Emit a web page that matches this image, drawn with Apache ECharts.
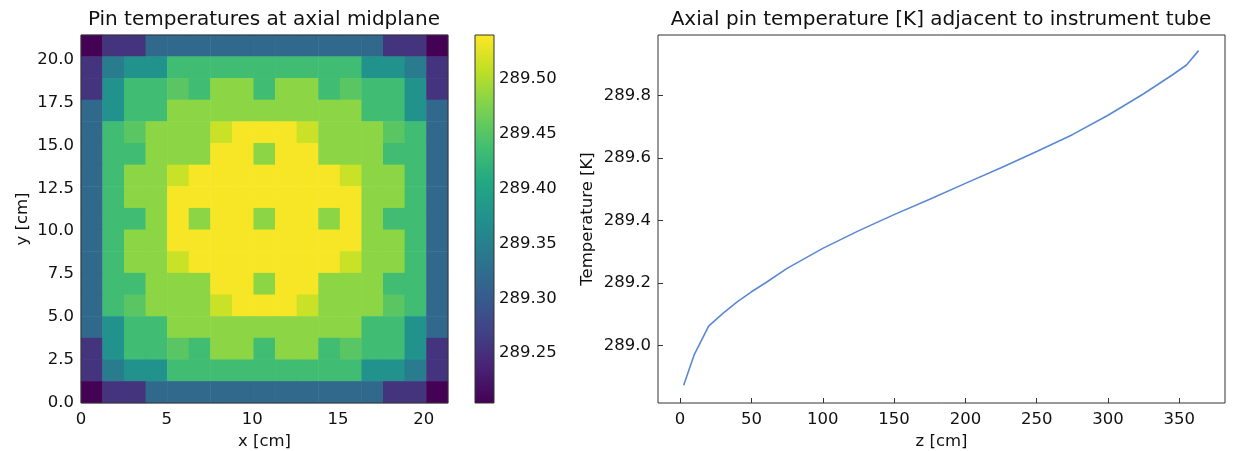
<!DOCTYPE html>
<html>
<head>
<meta charset="utf-8">
<script src="https://cdn.jsdelivr.net/npm/echarts@6/dist/echarts.min.js"></script>
<style>
html, body { margin: 0; padding: 0; background: #fff; }
#chart { width: 1238px; height: 451px; }
</style>
</head>
<body>
<div id="chart"></div>
<script>
// pin temperatures [K] at the axial midplane, 17x17 pins, first row is the top of the map
var pinRows = [
    [289.205, 289.255, 289.255, 289.318, 289.318, 289.318, 289.318, 289.318, 289.318, 289.318, 289.318, 289.318, 289.318, 289.318, 289.255, 289.255, 289.205],
    [289.255, 289.343, 289.374, 289.374, 289.435, 289.435, 289.435, 289.435, 289.435, 289.435, 289.435, 289.435, 289.435, 289.374, 289.374, 289.343, 289.255],
    [289.255, 289.374, 289.435, 289.435, 289.453, 289.435, 289.482, 289.482, 289.435, 289.482, 289.482, 289.435, 289.453, 289.435, 289.435, 289.374, 289.255],
    [289.318, 289.374, 289.435, 289.435, 289.482, 289.482, 289.482, 289.482, 289.482, 289.482, 289.482, 289.482, 289.482, 289.435, 289.435, 289.374, 289.318],
    [289.318, 289.435, 289.453, 289.482, 289.482, 289.482, 289.513, 289.537, 289.537, 289.537, 289.513, 289.482, 289.482, 289.482, 289.453, 289.435, 289.318],
    [289.318, 289.435, 289.435, 289.482, 289.482, 289.482, 289.537, 289.537, 289.482, 289.537, 289.537, 289.482, 289.482, 289.482, 289.435, 289.435, 289.318],
    [289.318, 289.435, 289.482, 289.482, 289.513, 289.537, 289.537, 289.537, 289.537, 289.537, 289.537, 289.537, 289.513, 289.482, 289.482, 289.435, 289.318],
    [289.318, 289.435, 289.482, 289.482, 289.537, 289.537, 289.537, 289.537, 289.537, 289.537, 289.537, 289.537, 289.537, 289.482, 289.482, 289.435, 289.318],
    [289.318, 289.435, 289.435, 289.482, 289.537, 289.482, 289.537, 289.537, 289.482, 289.537, 289.537, 289.482, 289.537, 289.482, 289.435, 289.435, 289.318],
    [289.318, 289.435, 289.482, 289.482, 289.537, 289.537, 289.537, 289.537, 289.537, 289.537, 289.537, 289.537, 289.537, 289.482, 289.482, 289.435, 289.318],
    [289.318, 289.435, 289.482, 289.482, 289.513, 289.537, 289.537, 289.537, 289.537, 289.537, 289.537, 289.537, 289.513, 289.482, 289.482, 289.435, 289.318],
    [289.318, 289.435, 289.435, 289.482, 289.482, 289.482, 289.537, 289.537, 289.482, 289.537, 289.537, 289.482, 289.482, 289.482, 289.435, 289.435, 289.318],
    [289.318, 289.435, 289.453, 289.482, 289.482, 289.482, 289.513, 289.537, 289.537, 289.537, 289.513, 289.482, 289.482, 289.482, 289.453, 289.435, 289.318],
    [289.318, 289.374, 289.435, 289.435, 289.482, 289.482, 289.482, 289.482, 289.482, 289.482, 289.482, 289.482, 289.482, 289.435, 289.435, 289.374, 289.318],
    [289.255, 289.374, 289.435, 289.435, 289.453, 289.435, 289.482, 289.482, 289.435, 289.482, 289.482, 289.435, 289.453, 289.435, 289.435, 289.374, 289.255],
    [289.255, 289.343, 289.374, 289.374, 289.435, 289.435, 289.435, 289.435, 289.435, 289.435, 289.435, 289.435, 289.435, 289.374, 289.374, 289.343, 289.255],
    [289.205, 289.255, 289.255, 289.318, 289.318, 289.318, 289.318, 289.318, 289.318, 289.318, 289.318, 289.318, 289.318, 289.318, 289.255, 289.255, 289.205]
];
var pinIndex = ['0','1','2','3','4','5','6','7','8','9','10','11','12','13','14','15','16'];
var mapSize = 21.42;            // 17 pins * 1.26 cm
var mapXTicks = [0, 5, 10, 15, 20];
var mapYTicks = [0, 2.5, 5, 7.5, 10, 12.5, 15, 17.5, 20];

var cbMin = 289.2045, cbMax = 289.540;
var cbTicks = [289.25, 289.30, 289.35, 289.40, 289.45, 289.50];
var viridis = ['#440154', '#482475', '#414487', '#355f8d', '#2a788e', '#21918c', '#22a884', '#44bf70', '#7ad151', '#bddf26', '#fde725'];

// axial profile next to the instrument tube
var axialZ = [2.5, 10, 20, 30, 40, 50, 60, 75, 100, 125, 150, 175, 200, 225, 250, 275, 300, 325, 345, 355, 363.5];
var axialT = [288.873, 288.972, 289.062, 289.103, 289.140, 289.172, 289.201, 289.247, 289.311, 289.367, 289.419, 289.468, 289.519, 289.569, 289.621, 289.675, 289.737, 289.806, 289.866, 289.898, 289.944];
var zTicks = [0, 50, 100, 150, 200, 250, 300, 350];
var tTicks = [289.0, 289.2, 289.4, 289.6, 289.8];

var heatData = [];
for (var r = 0; r < pinRows.length; r++) {
    for (var c = 0; c < pinRows[r].length; c++) {
        heatData.push([c, pinRows.length - 1 - r, pinRows[r][c]]);
    }
}
var lineData = [];
for (var i = 0; i < axialZ.length; i++) {
    lineData.push([axialZ[i], axialT[i]]);
}
var cbStops = [];
for (var k = 0; k < viridis.length; k++) {
    cbStops.push({ offset: k / (viridis.length - 1), color: viridis[k] });
}

var font = 'DejaVu Sans';
var txt = '#111';
var frame = '#333';
var tickLabel = { fontFamily: font, fontSize: 16.5, color: txt };
var axisName = { fontFamily: font, fontSize: 16.5, color: txt };

var myChart = echarts.init(document.getElementById('chart'), null, { renderer: 'canvas' });
var option = {
    backgroundColor: '#fff',
    animation: false,
    title: [
        { text: 'Pin temperatures at axial midplane', left: 264, top: 10, textAlign: 'center', padding: 0,
          textStyle: { fontFamily: font, fontSize: 20, fontWeight: 'normal', color: txt } },
        { text: 'Axial pin temperature [K] adjacent to instrument tube', left: 941, top: 10, textAlign: 'center', padding: 0,
          textStyle: { fontFamily: font, fontSize: 20, fontWeight: 'normal', color: txt } }
    ],
    grid: [
        { left: 81, top: 35, width: 367, height: 368, show: true, borderColor: frame, borderWidth: 1, z: 5, outerBoundsMode: 'none' },
        { left: 475, top: 35, width: 19, height: 368, show: true, borderColor: frame, borderWidth: 1, z: 5, outerBoundsMode: 'none' },
        { left: 658, top: 35, width: 567, height: 368, show: true, borderColor: frame, borderWidth: 1, z: 5, outerBoundsMode: 'none' }
    ],
    visualMap: {
        show: false,
        type: 'continuous',
        seriesIndex: 0,
        min: cbMin,
        max: cbMax,
        inRange: { color: viridis }
    },
    xAxis: [
        { type: 'category', gridIndex: 0, data: pinIndex, show: false },
        { type: 'value', gridIndex: 0, position: 'bottom', min: 0, max: mapSize,
          name: 'x [cm]', nameLocation: 'middle', nameGap: 30, nameTextStyle: axisName,
          axisLine: { show: false, onZero: false }, axisTick: { show: false }, splitLine: { show: false },
          axisLabel: Object.assign({ customValues: mapXTicks, margin: 8 }, tickLabel) },
        { type: 'category', gridIndex: 1, data: [''], show: false },
        { type: 'value', gridIndex: 2, min: -15.5, max: 382,
          name: 'z [cm]', nameLocation: 'middle', nameGap: 30, nameTextStyle: axisName,
          axisLine: { show: false, onZero: false }, splitLine: { show: false },
          axisTick: { inside: true, length: 5, customValues: zTicks, lineStyle: { color: frame } },
          axisLabel: Object.assign({ customValues: zTicks, margin: 8 }, tickLabel) }
    ],
    yAxis: [
        { type: 'category', gridIndex: 0, data: pinIndex, show: false },
        { type: 'value', gridIndex: 0, position: 'left', min: 0, max: mapSize,
          name: 'y [cm]', nameLocation: 'middle', nameGap: 50, nameTextStyle: axisName,
          axisLine: { show: false, onZero: false }, axisTick: { show: false }, splitLine: { show: false },
          axisLabel: Object.assign({ customValues: mapYTicks, margin: 7,
              formatter: function (v) { return v.toFixed(1); } }, tickLabel) },
        { type: 'value', gridIndex: 1, position: 'right', min: cbMin, max: cbMax,
          axisLine: { show: false, onZero: false }, axisTick: { show: false }, splitLine: { show: false },
          axisLabel: Object.assign({ customValues: cbTicks, margin: 5,
              formatter: function (v) { return v.toFixed(2); } }, tickLabel) },
        { type: 'value', gridIndex: 2, min: 288.816, max: 289.994,
          name: 'Temperature [K]', nameLocation: 'middle', nameGap: 62, nameTextStyle: axisName,
          axisLine: { show: false, onZero: false }, splitLine: { show: false },
          axisTick: { inside: true, length: 5, customValues: tTicks, lineStyle: { color: frame } },
          axisLabel: Object.assign({ customValues: tTicks, margin: 7,
              formatter: function (v) { return v.toFixed(1); } }, tickLabel) }
    ],
    series: [
        {
            type: 'heatmap',
            xAxisIndex: 0,
            yAxisIndex: 0,
            data: heatData,
            itemStyle: { borderWidth: 0 }
        },
        {   // colorbar: transparent base up to cbMin, gradient bar from cbMin to cbMax
            type: 'bar', xAxisIndex: 2, yAxisIndex: 2, stack: 'cb', barWidth: '100%',
            data: [cbMin], itemStyle: { color: 'rgba(0,0,0,0)' }, silent: true
        },
        {
            type: 'bar', xAxisIndex: 2, yAxisIndex: 2, stack: 'cb', barWidth: '100%',
            data: [cbMax - cbMin], silent: true,
            itemStyle: { color: new echarts.graphic.LinearGradient(0, 1, 0, 0, cbStops) }
        },
        {
            type: 'line',
            xAxisIndex: 3,
            yAxisIndex: 3,
            data: lineData,
            showSymbol: false,
            lineStyle: { color: '#5a89d4', width: 1.6 }
        }
    ]
};
myChart.setOption(option);
</script>
</body>
</html>
